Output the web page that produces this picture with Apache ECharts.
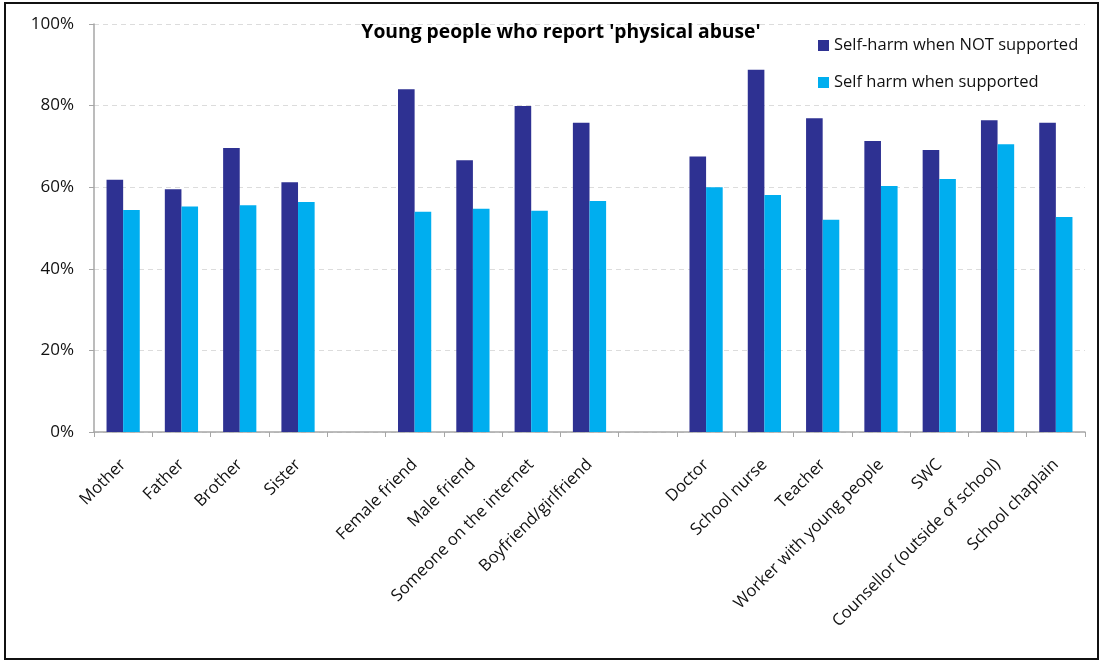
<!DOCTYPE html>
<html><head><meta charset="utf-8">
<script src="https://cdn.jsdelivr.net/npm/echarts@6/dist/echarts.min.js"></script>
<style>html,body{margin:0;padding:0;background:#fff}#frame{position:absolute;left:4px;top:2px;width:1091px;height:654px;border:2px solid #111}#c{position:absolute;left:0;top:0;width:1107px;height:662px}</style>
</head><body><div id="frame"></div><div id="c"></div>
<script>
var categories = ['Mother','Father','Brother','Sister','','Female friend','Male friend','Someone on the internet','Boyfriend/girlfriend','','Doctor','School nurse','Teacher','Worker with young people','SWC','Counsellor (outside of school)','School chaplain'];
var notSupported = [61.8,59.5,69.6,61.2,null,84.0,66.6,79.9,75.8,null,67.5,88.8,76.9,71.3,69.1,76.4,75.8];
var supported = [54.4,55.3,55.6,56.4,null,54.0,54.7,54.2,56.6,null,60.0,58.1,52.0,60.3,62.0,70.5,52.7];
var seriesNames = ['Self-harm when NOT supported','Self harm when supported'];
var titleText = "Young people who report 'physical abuse'";
var chart = echarts.init(document.getElementById('c'));
var font = 'Open Sans';
chart.setOption({
  animation:false,
  title:{text:titleText,left:556,top:18,textAlign:'center',textStyle:{fontFamily:font,fontSize:19.3,fontWeight:'bold',color:'#000'}},
  legend:{orient:'vertical',left:813,top:32,itemWidth:11,itemHeight:11,itemGap:20,icon:'rect',
    textStyle:{fontFamily:font,fontSize:16.5,color:'#111'},data:seriesNames},
  grid:{left:94,right:22,top:24,bottom:230,containLabel:false},
  xAxis:{type:'category',data:categories,
    axisLine:{lineStyle:{color:'#a6a6a6',width:1.5}},
    axisTick:{show:true,length:5,lineStyle:{color:'#a6a6a6'}},
    axisLabel:{rotate:45,interval:0,fontFamily:font,fontSize:16.6,color:'#111',margin:30}},
  yAxis:{type:'value',min:0,max:100,interval:20,
    axisLabel:{formatter:'{value}%',fontFamily:font,fontSize:17,color:'#111',margin:20},
    axisLine:{show:true,lineStyle:{color:'#a6a6a6',width:1.5}},
    axisTick:{show:true,length:5,lineStyle:{color:'#a6a6a6'}},
    splitLine:{lineStyle:{type:[5,4],color:'#dcdcdc'}}},
  series:[
    {name:seriesNames[0],type:'bar',data:notSupported,barGap:'0%',barCategoryGap:'43%',itemStyle:{color:'#2E3192'}},
    {name:seriesNames[1],type:'bar',data:supported,itemStyle:{color:'#00AEEF'}}
  ]
});
</script></body></html>
